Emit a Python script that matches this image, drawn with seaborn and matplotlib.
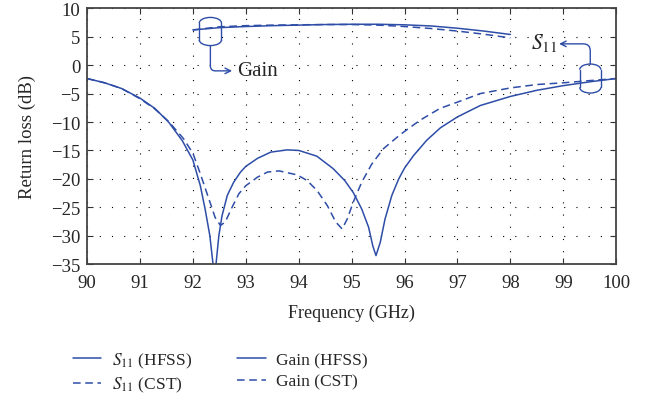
import matplotlib
matplotlib.use("Agg")
import matplotlib.pyplot as plt
from matplotlib.patches import Arc
from matplotlib.lines import Line2D
import seaborn as sns

### Data
freq_s11_hfss = [90, 90.33, 90.65, 91.0, 91.28, 91.54, 91.8, 92.0, 92.14, 92.23, 92.32, 92.41,
                 92.49, 92.55, 92.65, 92.77, 92.9, 93.0, 93.22, 93.47, 93.78, 94.0, 94.34, 94.65,
                 94.87, 95.03, 95.19, 95.32, 95.4, 95.46, 95.54, 95.63, 95.76, 95.89, 96.0, 96.17,
                 96.42, 96.68, 97.0, 97.43, 98.0, 98.51, 99.0, 99.52, 100]
s11_hfss = [-2.35, -3.1, -4.1, -5.8, -7.6, -10.0, -13.3, -16.7, -21.2, -25.3, -30.0, -37.5,
            -30.0, -26.5, -22.9, -20.6, -18.8, -17.8, -16.4, -15.3, -14.9, -15.0, -16.0, -18.2,
            -20.3, -22.4, -25.3, -28.5, -31.8, -33.5, -31.2, -27.1, -22.9, -20.0, -18.1, -15.9,
            -13.2, -11.0, -9.1, -7.1, -5.5, -4.4, -3.6, -2.9, -2.35]

freq_s11_cst = [90, 90.33, 90.65, 91.0, 91.28, 91.54, 91.82, 92.0, 92.14, 92.3, 92.42, 92.52,
                92.61, 92.74, 92.87, 93.0, 93.22, 93.41, 93.63, 93.97, 94.16, 94.35, 94.54, 94.7,
                94.82, 94.92, 95.03, 95.19, 95.38, 95.6, 95.92, 96.29, 96.67, 97.0, 97.43, 98.0,
                98.51, 99.0, 99.52, 100]
s11_cst = [-2.35, -3.1, -4.1, -5.9, -7.7, -9.9, -12.9, -15.5, -19.1, -23.5, -26.8, -28.2,
           -27.6, -25.0, -22.6, -21.2, -19.7, -18.8, -18.6, -19.3, -20.3, -22.1, -24.7, -27.6,
           -28.8, -27.0, -24.1, -20.6, -17.4, -14.7, -12.2, -9.7, -7.6, -6.5, -5.0, -4.0,
           -3.4, -3.1, -2.7, -2.35]

freq_gain = [92, 92.5, 93, 93.5, 94, 94.5, 95, 95.5, 96, 96.5, 97, 97.5, 98]
gain_hfss = [6.2, 6.6, 6.8, 6.95, 7.05, 7.15, 7.2, 7.2, 7.1, 6.9, 6.5, 6.0, 5.4]
gain_cst = [6.2, 6.75, 6.95, 7.05, 7.1, 7.15, 7.15, 7.05, 6.8, 6.45, 6.0, 5.45, 4.8]

xticks = list(range(90, 101))
yticks = list(range(-35, 11, 5))

### Style
sns.set_style("ticks")
plt.rcParams['font.family'] = ['Liberation Serif', 'DejaVu Serif']
plt.rcParams['mathtext.fontset'] = 'stix'
blue = '#2E4DA7'
dash = (0, (5, 3))

fig = plt.figure(figsize=(6.5, 4.06), dpi=100)
ax = fig.add_axes([0.134, 0.347, 0.814, 0.630])

sns.lineplot(x=freq_s11_hfss, y=s11_hfss, ax=ax, color=blue, lw=1.1)
sns.lineplot(x=freq_s11_cst, y=s11_cst, ax=ax, color=blue, lw=1.1, linestyle=dash)
sns.lineplot(x=freq_gain, y=gain_hfss, ax=ax, color=blue, lw=1.1)
sns.lineplot(x=freq_gain, y=gain_cst, ax=ax, color=blue, lw=1.1, linestyle=dash)

ax.set_xlim(90, 100)
ax.set_ylim(-35, 10)
ax.set_xticks(xticks)
ax.set_yticks(yticks)
ax.grid(True, color='black', linestyle=(0, (1, 10)), lw=0.8)
ax.tick_params(axis='x', direction='in', top=True, length=4, color='#333333', labelsize=13.5, pad=7)
ax.tick_params(axis='y', direction='in', right=True, length=4, color='#333333', labelsize=13.5, pad=5)
for s in ax.spines.values():
    s.set_color('#444444')
    s.set_linewidth(1.3)
ax.set_xlabel('Frequency (GHz)', fontsize=13, labelpad=9)
ax.set_ylabel('Return loss (dB)', fontsize=13.5, labelpad=11)

# cylinder markers
def cylinder(xc, ytop, ybot, w, cap):
    ax.add_patch(Arc((xc, ytop - cap / 2), w, cap, theta1=0, theta2=180, color=blue, lw=1.0))
    ax.add_patch(Arc((xc, ybot + cap / 2), w, cap, theta1=180, theta2=360, color=blue, lw=1.0))
    for xe in (xc - w / 2, xc + w / 2):
        ax.plot([xe, xe], [ybot + cap / 2, ytop - cap / 2], color=blue, lw=1.0)

cylinder(92.33, 8.4, 3.45, 0.42, 2.0)
cylinder(99.51, 0.2, -4.9, 0.40, 2.0)

ax.annotate('', xy=(92.74, -1.0), xytext=(92.33, 3.45),
            arrowprops=dict(arrowstyle='->', color=blue, lw=1.0, shrinkA=0, shrinkB=0,
                            connectionstyle='angle,angleA=90,angleB=0,rad=5'))
ax.text(92.83, -1.0, 'Gain', ha='left', va='center', fontsize=15)

ax.annotate('', xy=(98.92, 3.75), xytext=(99.51, 0.2),
            arrowprops=dict(arrowstyle='->', color=blue, lw=1.0, shrinkA=0, shrinkB=0,
                            connectionstyle='angle,angleA=90,angleB=0,rad=7'))
ax.text(98.88, 4.0, r'$S_{11}$', ha='right', va='center', fontsize=15.5)

# legend
handles = [Line2D([], [], color=blue, lw=1.1),
           Line2D([], [], color=blue, lw=1.1, linestyle=dash),
           Line2D([], [], color=blue, lw=1.1),
           Line2D([], [], color=blue, lw=1.1, linestyle=dash)]
labels = [r'$S_{11}$ (HFSS)', r'$S_{11}$ (CST)', 'Gain (HFSS)', 'Gain (CST)']
fig.legend(handles, labels, ncol=2, frameon=False, loc='center left',
           bbox_to_anchor=(0.088, 0.08), handlelength=1.65, handletextpad=0.6,
           columnspacing=2.6, labelspacing=0.3, fontsize=12.5)

fig.savefig('out.png', dpi=100)
